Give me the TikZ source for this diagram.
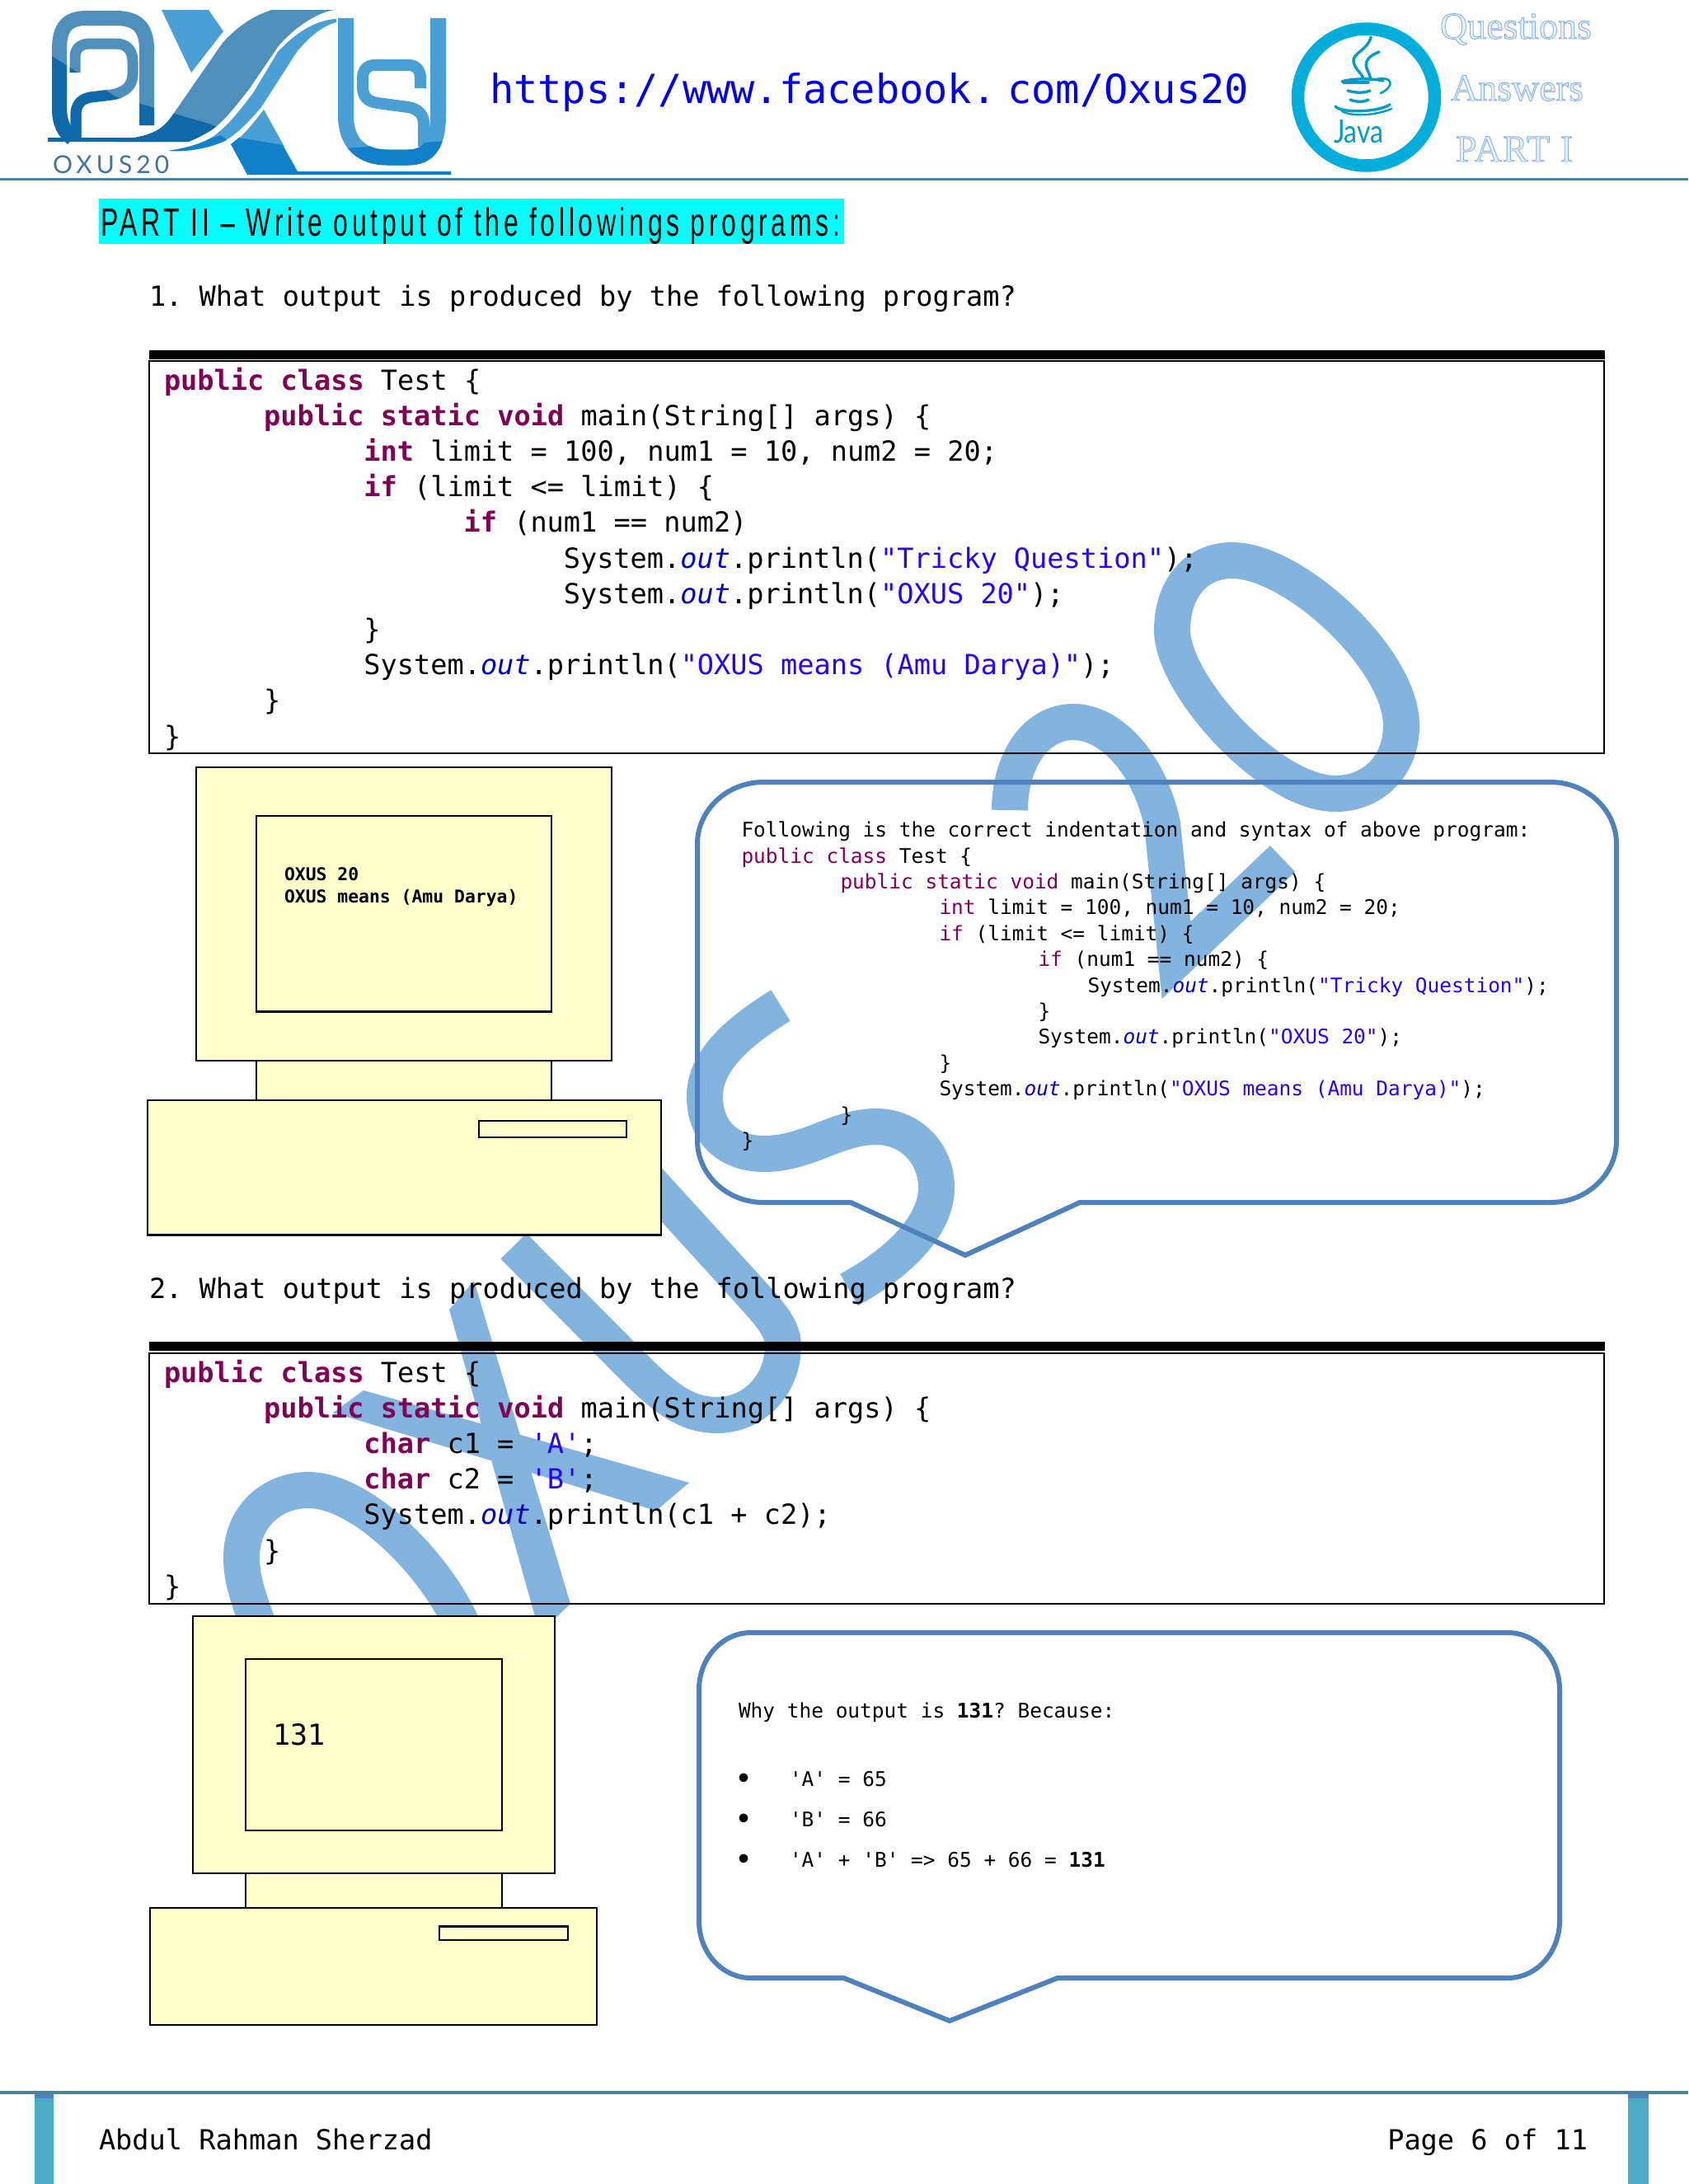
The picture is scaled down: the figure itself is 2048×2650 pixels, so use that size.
\documentclass[tikz,border=0pt]{standalone}
\usepackage{fontspec}
\usepackage{graphicx}
\setmainfont{Liberation Sans}
\setmonofont{DejaVu Sans Mono}
\newfontfamily\serifol{Liberation Serif}
\newfontfamily\latof{Lato}
\newfontfamily\agencyf[FakeStretch=0.62,LetterSpace=9]{Liberation Sans}
\newfontfamily\javaf[FakeStretch=0.82]{Lato}
\definecolor{kwc}{HTML}{7F0055}
\definecolor{strc}{HTML}{2A00FF}
\definecolor{outc}{HTML}{0000C0}
\definecolor{wm}{HTML}{82B4DF}
\definecolor{pcfill}{HTML}{FFFFCC}
\definecolor{bub}{HTML}{4F81BD}
\definecolor{rule}{HTML}{4B8199}
\definecolor{side}{HTML}{4BACC6}
\definecolor{lmid}{HTML}{4F8FBC}
\definecolor{ldark}{HTML}{0F69A8}
\definecolor{llight}{HTML}{4A9FD4}
\definecolor{lbright}{HTML}{1280C8}
\definecolor{javac}{HTML}{00ADDB}
\definecolor{hilite}{HTML}{00FFFF}
\definecolor{urlc}{HTML}{0000EE}
\newcommand\kw[1]{\textcolor{kwc}{#1}}
\newcommand\kb[1]{\textcolor{kwc}{\bfseries #1}}
\newcommand\strg[1]{\textcolor{strc}{#1}}
\newcommand\oit{\textcolor{outc}{\itshape out}}
\newcommand\CodeLine[4]{\node[codetext] (#1) at ({199+20.2*#2},#3) {#4};}
\newcommand\BubLine[4]{\node[bubtext] (#1) at ({899.5+15*#2},#3) {#4};}
\newcommand\OutlineOn{\special{pdf:code 2 Tr 0.9 w 0.53 0.69 0.91 RG 0.90 0.94 0.99 rg}}
\newcommand\OutlineOff{\special{pdf:code 0 Tr 0 g 0 G}}
\tikzset{
  basetext/.style={inner sep=0pt,outer sep=0pt,anchor=base west,text=black},
  codetext/.style={basetext,font=\ttfamily\fontsize{33.6}{40}\selectfont},
  bubtext/.style={basetext,font=\ttfamily\fontsize{24.45}{30}\selectfont},
  bullettext/.style={basetext,font=\ttfamily\bfseries\fontsize{30}{30}\selectfont},
  scrtext/.style={basetext,font=\ttfamily\bfseries\fontsize{21.4}{26}\selectfont},
  wmstroke/.style={draw=wm,line width=44pt,line cap=butt,miter limit=20},
  pc/.style={draw=black,fill=pcfill,line width=2.6pt},
  codebox/.style={draw=black,line width=2pt},
  topbar/.style={fill=black},
  bubble/.style={draw=bub,line width=6pt,line join=miter,miter limit=10},
  oltext/.style={basetext,font=\serifol\fontsize{46}{50}\selectfont},
  javaline/.style={draw=javac!90!black,line width=3.4pt,line cap=round},
}
\begin{document}
\begin{tikzpicture}[x=1pt,y=-1pt]
\useasboundingbox (0,0) rectangle (2048,2650);
\fill[white] (0,0) rectangle (2048,2650);

% ---- watermark OXUS 20
\draw[wmstroke] (314,1975) .. controls (300,1935) and (293,1915) .. (293,1890)
   .. controls (293,1840) and (330,1808) .. (374,1808)
   .. controls (440,1808) and (530,1900) .. (562,1975);
\fill[wm] (575,1554) -- (545,1589) -- (650,1965) -- (672,1965) -- (692,1946) -- cycle;
\fill[wm] (441,1687) -- (404,1714) -- (796,1833) -- (836,1799) -- cycle;
\draw[wmstroke] (623,1512) -- (770,1660) .. controls (810,1700) and (835,1717) .. (870,1717)
   .. controls (915,1717) and (950,1680) .. (950,1632)
   .. controls (950,1610) and (930,1590) .. (904,1561) -- (740,1381);
\draw[wmstroke] (947,1220) .. controls (890,1255) and (855,1290) .. (855,1330)
   .. controls (855,1375) and (885,1400) .. (927,1400)
   .. controls (980,1400) and (1015,1367) .. (1063,1367)
   .. controls (1105,1367) and (1136,1400) .. (1136,1441)
   .. controls (1136,1490) and (1085,1535) .. (1030,1565);
\draw[wmstroke] (1225,983) .. controls (1225,925) and (1255,876) .. (1302,876)
   .. controls (1350,876) and (1395,930) .. (1410,1000) -- (1427,1165) -- (1556,1042);
\draw[wmstroke] (1495,680) .. controls (1570,680) and (1700,800) .. (1700,880)
   .. controls (1700,930) and (1665,963) .. (1620,963)
   .. controls (1540,963) and (1422,830) .. (1422,765)
   .. controls (1422,715) and (1450,680) .. (1495,680) -- cycle;

% ---- header rules and footer
\fill[rule] (0,215.5) rectangle (2048,219);
\fill[rule] (0,2537) rectangle (2048,2541);
\fill[side] (42,2541) rectangle (65,2650);
\fill[side] (1975,2541) rectangle (2000,2650);
\fill[bub] (42,2541) rectangle (65,2546);
\fill[bub] (1975,2541) rectangle (2000,2546);

% ---- OXUS logo
\begin{scope}
  \draw[lmid,line width=18pt] (178,152) -- (178,60) .. controls (178,32) and (165,22) .. (140,22) -- (105,22)
     .. controls (80,22) and (72,35) .. (72,60) -- (72,130) .. controls (72,150) and (78,160) .. (88,168);
  \draw[lmid,line width=13pt] (91,88) -- (91,70) .. controls (91,58) and (98,53) .. (110,53) -- (140,53)
     .. controls (155,53) and (161,62) .. (161,75) -- (161,90) .. controls (161,105) and (150,113) .. (135,115)
     -- (110,118) .. controls (98,120) and (92,127) .. (92,140) -- (92,168);
  \fill[lmid] (330,12) -- (407,12) .. controls (385,14) and (355,35) .. (337,57) -- (303,107)
     .. controls (285,130) and (270,150) .. (253,160) .. controls (240,167) and (235,170) .. (227,172)
     -- (140,172) -- (173,165) .. controls (190,160) and (198,155) .. (207,143) -- (270,52)
     .. controls (290,30) and (310,18) .. (330,12) -- cycle;
\end{scope}
\begin{scope}
  \clip (40,68) -- (63,68) -- (140,117) -- (253,150) -- (290,165) -- (290,180) -- (40,180) -- cycle;
  \draw[ldark,line width=18pt] (178,152) -- (178,60) .. controls (178,32) and (165,22) .. (140,22) -- (105,22)
     .. controls (80,22) and (72,35) .. (72,60) -- (72,130) .. controls (72,150) and (78,160) .. (88,168);
  \draw[ldark,line width=13pt] (91,88) -- (91,70) .. controls (91,58) and (98,53) .. (110,53) -- (140,53)
     .. controls (155,53) and (161,62) .. (161,75) -- (161,90) .. controls (161,105) and (150,113) .. (135,115)
     -- (110,118) .. controls (98,120) and (92,127) .. (92,140) -- (92,168);
  \fill[ldark] (330,12) -- (407,12) .. controls (385,14) and (355,35) .. (337,57) -- (303,107)
     .. controls (285,130) and (270,150) .. (253,160) .. controls (240,167) and (235,170) .. (227,172)
     -- (140,172) -- (173,165) .. controls (190,160) and (198,155) .. (207,143) -- (270,52)
     .. controls (290,30) and (310,18) .. (330,12) -- cycle;
\end{scope}
\fill[ldark] (58,167) rectangle (230,172);
\fill[llight] (196,12) -- (253,12) -- (271,38) -- (232,88) -- cycle;
\fill[llight] (408,23) .. controls (385,24) and (360,38) .. (337,63) -- (307,113)
   .. controls (290,135) and (275,155) .. (255,168) .. controls (240,176) and (222,180) .. (203,183)
   .. controls (225,184) and (250,180) .. (270,172) .. controls (285,165) and (300,150) .. (317,130)
   -- (360,63) .. controls (375,45) and (390,32) .. (408,27) -- cycle;
\fill[lbright] (205,183) .. controls (225,180) and (240,176) .. (255,168) -- (268,164) -- (275,170)
   .. controls (255,180) and (225,185) .. (205,183) -- cycle;
\fill[llight] (320,133) -- (345,178) -- (290,167) -- (281,175) .. controls (295,165) and (307,150) .. (320,133) -- cycle;
\fill[lbright] (280,175) -- (290,167) -- (343,176) -- (361,208) -- (547,208) -- (547,212) -- (300,212) -- cycle;
\draw[llight,line width=19pt] (419.5,22) -- (419.5,140) .. controls (419.5,175) and (440,191) .. (470,191)
   -- (495,191) .. controls (520,191) and (531.5,175) .. (531.5,140) -- (531.5,22);
\draw[llight,line width=14pt] (510,107) -- (510,95) .. controls (510,85) and (505,79) .. (495,79) -- (455,79)
   .. controls (445,79) and (440,85) .. (440,95) -- (440,105) .. controls (440,118) and (446,123) .. (458,125)
   -- (495,130) .. controls (508,132) and (514,140) .. (514,150) -- (514,178);
\begin{scope}
  \clip (405,181) -- (541,171) -- (550,171) -- (550,205) -- (405,205) -- cycle;
  \draw[lbright,line width=19pt] (419.5,22) -- (419.5,140) .. controls (419.5,175) and (440,191) .. (470,191)
   -- (495,191) .. controls (520,191) and (531.5,175) .. (531.5,140) -- (531.5,22);
\end{scope}
\node[basetext,text=rule!90!blue,font=\latof\fontsize{30}{34}\selectfont\addfontfeature{LetterSpace=17}] (oxuslogo) at (64,210) {OXUS20};

% ---- URL
\node[basetext,font=\ttfamily\fontsize{48.6}{54}\selectfont,text=urlc] (url) at (594,125) {https://www.facebook.\hspace*{14pt}com/Oxus20};

% ---- Java logo
\draw[javac,line width=15.5pt] (1657.5,118) circle (83);
\draw[javaline] (1663,45) .. controls (1660,60) and (1640,65) .. (1642,75) .. controls (1644,85) and (1652,88) .. (1654,96);
\draw[javaline] (1673,63) .. controls (1660,68) and (1655,75) .. (1658,83) .. controls (1660,88) and (1663,92) .. (1662,97);
\draw[javaline] (1628,99) .. controls (1640,95) and (1665,95) .. (1678,98);
\draw[javaline] (1630,100) -- (1660,100);
\draw[javaline] (1635,110) .. controls (1645,113) and (1655,113) .. (1662,110);
\draw[javaline] (1638,121) .. controls (1645,124) and (1655,124) .. (1660,121);
\draw[javaline,line width=2.6pt] (1670,96) .. controls (1690,92) and (1692,105) .. (1675,113);
\draw[javaline] (1620,129) .. controls (1625,137) and (1670,137) .. (1686,127);
\draw[javaline,line width=2.4pt] (1628,135) .. controls (1640,142) and (1670,140) .. (1688,132);
\node[basetext,text=javac!90!black,font=\javaf\fontsize{39}{42}\selectfont] (javaword) at (1618,173) {Java};

% ---- outlined titles
\node[oltext] (tq) at (1747,47) {\OutlineOn Questions\OutlineOff};
\node[oltext] (ta) at (1760,122) {\OutlineOn Answers\OutlineOff};
\node[oltext,font=\serifol\fontsize{46}{50}\selectfont\addfontfeature{LetterSpace=2.5}] (tp) at (1766,196) {\OutlineOn PART I\OutlineOff};

% ---- heading
\fill[hilite] (120,240.5) rectangle (1024,295.7);
\node[basetext,font=\agencyf\fontsize{48}{52}\selectfont] (heading) at (122,286)
  {\resizebox{897pt}{\height}{PART II – Write output of the followings programs:}};

% ---- question 1
\node[codetext] (q1) at (181,371) {1. What output is produced by the following program?};
\fill[topbar] (181,424.5) rectangle (1947,435.5);
\draw[codebox] (181,438) rectangle (1946,914);
\CodeLine{a1}{0}{473}{\kb{public class} Test \{}
\CodeLine{a2}{6}{516.2}{\kb{public static void} main(String[] args) \{}
\CodeLine{a3}{12}{559.4}{\kb{int} limit = 100, num1 = 10, num2 = 20;}
\CodeLine{a4}{12}{602.6}{\kb{if} (limit <= limit) \{}
\CodeLine{a5}{18}{645.8}{\kb{if} (num1 == num2)}
\CodeLine{a6}{24}{689}{System.\oit.println(\strg{"Tricky Question"});}
\CodeLine{a7}{24}{732.2}{System.\oit.println(\strg{"OXUS 20"});}
\CodeLine{a8}{12}{775.4}{\}}
\CodeLine{a9}{12}{818.6}{System.\oit.println(\strg{"OXUS means (Amu Darya)"});}
\CodeLine{a10}{6}{861.8}{\}}
\CodeLine{a11}{0}{905}{\}}

% ---- computer 1
\draw[pc] (311,1287) rectangle (669,1335);
\draw[pc] (238,931) rectangle (742,1287);
\draw[pc] (311,990) rectangle (669,1227.5);
\draw[pc] (179,1335) rectangle (802,1498.5);
\draw[pc] (581,1360) rectangle (760,1380);
\node[scrtext] (s1a) at (345,1068) {OXUS 20};
\node[scrtext] (s1b) at (345,1095) {OXUS means (Amu Darya)};

% ---- bubble 1
\draw[bubble] (926,949) -- (1881,949) .. controls (1925,949) and (1961,983) .. (1961,1024)
  -- (1961,1384) .. controls (1961,1425) and (1925,1459) .. (1881,1459)
  -- (1310,1459) -- (1171,1523) -- (1032,1459) -- (926,1459)
  .. controls (882,1459) and (846,1425) .. (846,1384) -- (846,1024)
  .. controls (846,983) and (882,949) .. (926,949) -- cycle;
\BubLine{b1}{0}{1015.6}{Following is the correct indentation and syntax of above program:}
\BubLine{b2}{0}{1047}{\kw{public class} Test \{}
\BubLine{b3}{8}{1078.4}{\kw{public static void} main(String[] args) \{}
\BubLine{b4}{16}{1109.8}{\kw{int} limit = 100, num1 = 10, num2 = 20;}
\BubLine{b5}{16}{1141.2}{\kw{if} (limit <= limit) \{}
\BubLine{b6}{24}{1172.6}{\kw{if} (num1 == num2) \{}
\BubLine{b7}{28}{1204}{System.\oit.println(\strg{"Tricky Question"});}
\BubLine{b8}{24}{1235.4}{\}}
\BubLine{b9}{24}{1266.8}{System.\oit.println(\strg{"OXUS 20"});}
\BubLine{b10}{16}{1298.2}{\}}
\BubLine{b11}{16}{1329.6}{System.\oit.println(\strg{"OXUS means (Amu Darya)"});}
\BubLine{b12}{8}{1361}{\}}
\BubLine{b13}{0}{1392.4}{\}}

% ---- question 2
\node[codetext] (q2) at (181,1575) {2. What output is produced by the following program?};
\fill[topbar] (181,1628) rectangle (1947,1639);
\draw[codebox] (181,1641.6) rectangle (1946,1946);
\CodeLine{c1}{0}{1677}{\kb{public class} Test \{}
\CodeLine{c2}{6}{1720.2}{\kb{public static void} main(String[] args) \{}
\CodeLine{c3}{12}{1763.4}{\kb{char} c1 = \strg{'A'};}
\CodeLine{c4}{12}{1806.6}{\kb{char} c2 = \strg{'B'};}
\CodeLine{c5}{12}{1849.8}{System.\oit.println(c1 + c2);}
\CodeLine{c6}{6}{1893}{\}}
\CodeLine{c7}{0}{1936.2}{\}}

% ---- computer 2
\draw[pc] (298,2273) rectangle (609,2315);
\draw[pc] (234,1961) rectangle (673,2273);
\draw[pc] (298,2013) rectangle (609,2221);
\draw[pc] (182,2315) rectangle (724,2457);
\draw[pc] (533,2337.5) rectangle (689,2354);
\node[codetext,font=\ttfamily\fontsize{35}{40}\selectfont] (s2) at (331,2117) {131};

% ---- bubble 2
\draw[bubble] (911,1981) -- (1829,1981) .. controls (1864,1981) and (1892,2012) .. (1892,2050)
  -- (1892,2331) .. controls (1892,2369) and (1864,2400) .. (1829,2400)
  -- (1283,2400) -- (1152,2452) -- (1023.5,2400) -- (911,2400)
  .. controls (876,2400) and (848,2369) .. (848,2331) -- (848,2050)
  .. controls (848,2012) and (876,1981) .. (911,1981) -- cycle;
\node[bubtext] (d1) at (896,2084.5) {Why the output is \textbf{131}? Because:};
\node[bullettext] (d2b) at (893,2168) {•};
\node[bubtext] (d2) at (958,2167.5) {'A' = 65};
\node[bullettext] (d3b) at (893,2217) {•};
\node[bubtext] (d3) at (958,2216.5) {'B' = 66};
\node[bullettext] (d4b) at (893,2266) {•};
\node[bubtext] (d4) at (958,2265.5) {'A' + 'B' => 65 + 66 = \textbf{131}};

% ---- footer text
\node[codetext] (f1) at (120,2608) {Abdul Rahman Sherzad};
\node[codetext,anchor=base east] (f2) at (1926,2608) {Page 6 of 11};
\end{tikzpicture}
\end{document}
